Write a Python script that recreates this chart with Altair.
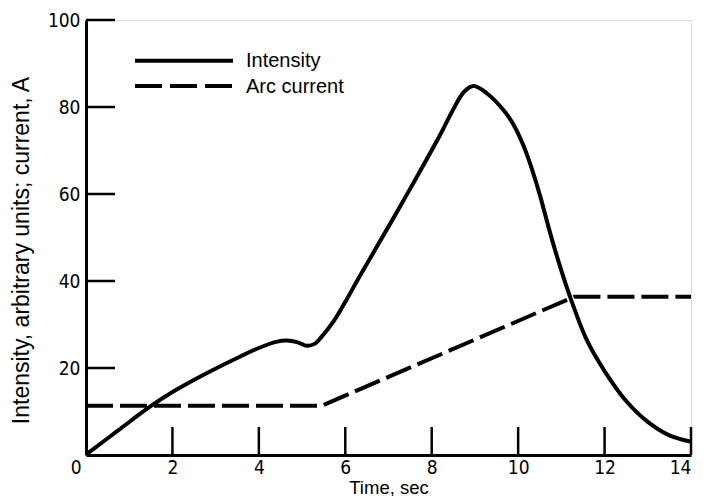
import altair as alt
import pandas as pd

# Intensity curve (time, sec ; arbitrary units)
int_t = [0.03, 0.75, 1.48, 2.02, 2.79, 3.56, 4.0, 4.4, 4.65, 4.9, 5.11, 5.3, 5.42, 5.72,
         6.0, 6.3, 6.65, 7.0, 7.42, 7.8, 8.19, 8.5, 8.75, 8.97, 9.28, 9.66, 9.9, 10.12,
         10.3, 10.51, 10.7, 10.9, 11.2, 11.59, 12.0, 12.5, 13.0, 13.5, 13.98]
int_v = [0.3, 5.7, 11.1, 14.6, 18.8, 22.6, 24.6, 26.0, 26.3, 25.9, 25.1, 25.6, 26.8, 30.6,
         35.2, 40.5, 46.5, 52.5, 59.8, 66.5, 73.5, 79.5, 83.5, 84.8, 83.1, 79.3, 75.8, 71.2,
         66.3, 59.5, 52.5, 45.6, 36.4, 26.4, 19.3, 12.4, 7.6, 4.5, 3.1]

# Arc current (A)
arc_t = [0.0, 5.45, 11.3, 14.0]
arc_v = [11.3, 11.3, 36.4, 36.4]

x_ticks = [2, 4, 6, 8, 10, 12, 14]
x_labels = [0, 2, 4, 6, 8, 10, 12, 14]
y_ticks = [20, 40, 60, 80, 100]

legend_labels = ["Intensity", "Arc current"]

LABEL_FONT = "Liberation Sans Narrow, DejaVu Sans Condensed, sans-serif"
TEXT_FONT = "Liberation Sans, Arial, sans-serif"

int_df = pd.DataFrame({"t": int_t, "v": int_v})
arc_df = pd.DataFrame({"t": arc_t, "v": arc_v})
xt_df = pd.DataFrame({"t": x_ticks})
yt_df = pd.DataFrame({"v": y_ticks})

x_axis = alt.Axis(
    values=x_labels, ticks=False, tickSize=0, grid=False,
    domainColor="black", domainWidth=3,
    labelFont=LABEL_FONT, labelFontSize=19, labelColor="black", labelPadding=3,
    labelAlign={"condition": {"test": "datum.value == 0 || datum.value == 14", "value": "right"},
                "value": "center"},
    labelOffset={"condition": {"test": "datum.value == 0", "value": -5}, "value": 0},
    title="Time, sec", titleFont=TEXT_FONT, titleFontSize=18.5, titleFontWeight="normal",
    titleColor="black", titleBaseline="alphabetic", titleY=38,
)
y_axis = alt.Axis(
    values=y_ticks, ticks=False, tickSize=0, grid=False,
    domainColor="black", domainWidth=3,
    labelFont=LABEL_FONT, labelFontSize=19, labelColor="black", labelPadding=6,
    title="Intensity, arbitrary units; current, A", titleFont=TEXT_FONT, titleFontSize=23,
    titleFontWeight="normal", titleColor="black", titleAngle=-90,
    titleBaseline="alphabetic", titleAlign="center", titleX=-58, titleY=230,
)

x_enc = alt.X("t:Q", scale=alt.Scale(domain=[0, 14], nice=False), axis=x_axis)
y_enc = alt.Y("v:Q", scale=alt.Scale(domain=[0, 100], nice=False), axis=y_axis)

intensity = alt.Chart(int_df).mark_line(
    color="black", strokeWidth=4, interpolate="catmull-rom"
).encode(x=x_enc, y=y_enc)

arc = alt.Chart(arc_df).mark_line(
    color="black", strokeWidth=4, strokeDash=[27, 7], strokeCap="butt"
).encode(x=x_enc, y=y_enc)

xt = alt.Chart(xt_df).mark_rule(color="black", strokeWidth=2.5).encode(
    x=x_enc, y=alt.value(435), y2=alt.value(407)
)
yt = alt.Chart(yt_df).mark_rule(color="black", strokeWidth=2.5).encode(
    y=y_enc, x=alt.value(0), x2=alt.value(29)
)

one = alt.Data(values=[{}])
leg_line1 = alt.Chart(one).mark_rule(color="black", strokeWidth=4).encode(
    x=alt.value(49), x2=alt.value(147), y=alt.value(40.7)
)
leg_line2 = alt.Chart(one).mark_rule(
    color="black", strokeWidth=4, strokeDash=[27, 8], strokeCap="butt"
).encode(x=alt.value(49), x2=alt.value(147), y=alt.value(66))
leg_text1 = alt.Chart(one).mark_text(
    text=legend_labels[0], font=TEXT_FONT, fontSize=20, align="left",
    baseline="alphabetic", color="black"
).encode(x=alt.value(160), y=alt.value(47))
leg_text2 = alt.Chart(one).mark_text(
    text=legend_labels[1], font=TEXT_FONT, fontSize=20, align="left",
    baseline="alphabetic", color="black"
).encode(x=alt.value(160), y=alt.value(73.3))

chart = alt.layer(
    intensity, arc, xt, yt, leg_line1, leg_line2, leg_text1, leg_text2
).properties(
    width=605, height=435,
    autosize=alt.AutoSizeParams(type="none"),
    padding={"left": 78, "top": 12, "right": 4, "bottom": 41},
).configure_view(stroke=None).configure(background="white")

chart.save("out.html", embed_options={"renderer": "svg", "actions": False})
